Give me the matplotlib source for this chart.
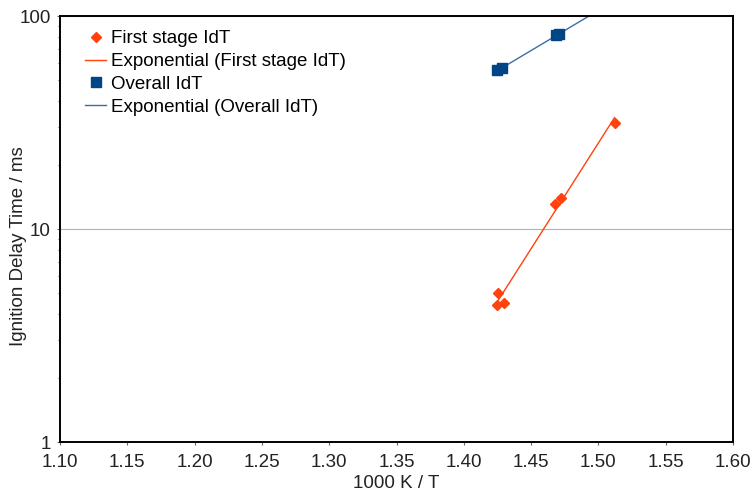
import numpy as np
import matplotlib
matplotlib.use("Agg")
import matplotlib.pyplot as plt
from matplotlib.ticker import FixedLocator, LogLocator, NullFormatter, FixedFormatter

plt.rcParams['font.family'] = ['Liberation Sans', 'DejaVu Sans']

# Inverse temperature (1000 K / T) and ignition delay times (ms)
first_x = [1.4247, 1.4254, 1.4296, 1.4680, 1.4719, 1.5120]
first_y = [4.42, 5.01, 4.50, 13.1, 14.0, 31.6]
overall_x = [1.4250, 1.4286, 1.4687, 1.4710]
overall_y = [55.7, 56.9, 81.4, 82.3]

x_ticks = [1.10, 1.15, 1.20, 1.25, 1.30, 1.35, 1.40, 1.45, 1.50, 1.55, 1.60]
y_ticks = [1, 10, 100]

orange = '#ff420e'
blue = '#004586'
fs = 13.5


def exp_fit(x, y):
    b, a = np.polyfit(np.asarray(x), np.log(np.asarray(y)), 1)
    return a, b


fig = plt.figure(figsize=(7.54, 4.93), dpi=100)
ax = fig.add_axes([0.0796, 0.1034, 0.8926, 0.8641])

ax.set_yscale('log')
ax.set_xlim(1.10, 1.60)
ax.set_ylim(1, 100)

ax.yaxis.set_major_locator(FixedLocator(y_ticks))
ax.yaxis.set_major_formatter(FixedFormatter([str(v) for v in y_ticks]))
ax.yaxis.set_minor_locator(LogLocator(base=10, subs=np.arange(2, 10)))
ax.yaxis.set_minor_formatter(NullFormatter())
ax.set_xticks(x_ticks)
ax.set_xticklabels([f"{v:.2f}" for v in x_ticks])

ax.grid(axis='y', which='major', color='#b3b3b3', linewidth=0.8)
ax.set_axisbelow(True)

# Exponential trend lines fitted in log space
a1, b1 = exp_fit(first_x, first_y)
xs1 = np.linspace(min(first_x), max(first_x), 50)
a2, b2 = exp_fit(overall_x, overall_y)
xs2 = np.linspace(min(overall_x), 1.52, 50)

ax.plot(first_x, first_y, linestyle='none', marker='D', markersize=5.5,
        color=orange, label='First stage IdT', zorder=3)
ax.plot(xs1, np.exp(a1 + b1 * xs1), color=orange, linewidth=1.0,
        label='Exponential (First stage IdT)', zorder=2)
ax.plot(overall_x, overall_y, linestyle='none', marker='s', markersize=6.5,
        color=blue, label='Overall IdT', zorder=3)
ax.plot(xs2, np.exp(a2 + b2 * xs2), color='#3a6ea5', linewidth=1.0,
        label='Exponential (Overall IdT)', zorder=2)

for s in ax.spines.values():
    s.set_linewidth(1.4)
    s.set_color('black')

ax.tick_params(axis='both', which='major', direction='out', length=2.5,
               width=0.8, labelsize=fs, color='#666666', labelcolor='#222222')
ax.tick_params(axis='x', which='major', pad=6)
ax.tick_params(axis='y', which='major', pad=4)
ax.tick_params(axis='y', which='minor', direction='out', length=1.5,
               width=0.8, color='#666666')

ax.set_xlabel('1000 K / T', fontsize=fs, labelpad=3, color='#222222')
fig.text(19 / 754, 0.5, 'Ignition Delay Time / ms', fontsize=fs,
         rotation=90, ha='center', va='center', color='#222222')

ax.legend(loc='upper left', frameon=False, fontsize=fs, handlelength=1.15,
          handletextpad=0.25, labelspacing=0.3, borderaxespad=0.2,
          bbox_to_anchor=(0.02, 0.993))

fig.savefig('out.png', dpi=100)
